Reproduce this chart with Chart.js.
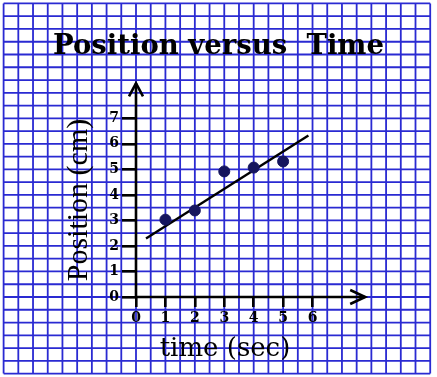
<!DOCTYPE html>
<html>
<head>
<meta charset="utf-8">
<script src="https://cdn.jsdelivr.net/npm/chart.js@4"></script>
<style>
  html, body { margin: 0; padding: 0; background: #fff; }
  canvas { display: block; }
</style>
</head>
<body>
<canvas id="myChart" width="437" height="377"></canvas>
<script>
const times = [1, 2, 3, 4, 5];
const positions = [3.03, 3.39, 4.92, 5.07, 5.31];
const fitTimes = [0.34, 5.86];
const fitPositions = [2.29, 6.33];
const xTicks = [0, 1, 2, 3, 4, 5, 6];
const yTicks = [0, 1, 2, 3, 4, 5, 6, 7];
const xRange = [0, 6.05];
const yRange = [0, 7.6];
const xAxisEnd = 7.79;
const yAxisEnd = 8.37;

const paperColor = '#2a2ad2';
const ink = '#000';

// blue graph paper behind everything, half a unit per cell
const graphPaper = {
    id: 'graphPaper',
    beforeDraw(chart) {
        const {ctx, width, height} = chart;
        const xs = chart.scales.x, ys = chart.scales.y;
        const vx = [], vy = [];
        for (let k = -40; k <= 40; k++) {
            const px = xs.getPixelForValue(k / 2);
            if (px >= 0 && px <= width) vx.push(px);
            const py = ys.getPixelForValue(k / 2);
            if (py >= 0 && py <= height) vy.push(py);
        }
        ctx.save();
        ctx.fillStyle = '#fff';
        ctx.fillRect(0, 0, width, height);
        ctx.strokeStyle = paperColor;
        ctx.lineWidth = 1.8;
        ctx.beginPath();
        vx.forEach(px => { ctx.moveTo(px, Math.min(...vy)); ctx.lineTo(px, Math.max(...vy)); });
        vy.forEach(py => { ctx.moveTo(Math.min(...vx), py); ctx.lineTo(Math.max(...vx), py); });
        ctx.stroke();
        ctx.restore();
    }
};

// axis lines with open arrow heads
const arrowAxes = {
    id: 'arrowAxes',
    afterDatasetsDraw(chart) {
        const {ctx} = chart;
        const xs = chart.scales.x, ys = chart.scales.y;
        const x0 = xs.getPixelForValue(0), y0 = ys.getPixelForValue(0);
        const xEnd = xs.getPixelForValue(xAxisEnd), yEnd = ys.getPixelForValue(yAxisEnd);
        ctx.save();
        ctx.strokeStyle = ink;
        ctx.lineWidth = 2.6;
        ctx.beginPath();
        ctx.moveTo(x0, y0 + 1.3);
        ctx.lineTo(x0, yEnd);
        ctx.moveTo(x0 - 1.3, y0);
        ctx.lineTo(xEnd, y0);
        ctx.stroke();
        ctx.beginPath();
        ctx.moveTo(x0 - 7, yEnd + 13);
        ctx.lineTo(x0, yEnd);
        ctx.lineTo(x0 + 7, yEnd + 13);
        ctx.moveTo(xEnd - 15, y0 - 7);
        ctx.lineTo(xEnd, y0);
        ctx.lineTo(xEnd - 15, y0 + 7);
        ctx.stroke();
        ctx.restore();
    }
};

const tickFont = {family: 'DejaVu Serif', size: 14, weight: 'bold'};

new Chart(document.getElementById('myChart').getContext('2d'), {
    type: 'scatter',
    data: {
        datasets: [{
            label: 'Position',
            data: times.map((t, i) => ({x: t, y: positions[i]})),
            pointRadius: 5.5,
            pointBackgroundColor: '#15155e',
            pointBorderColor: '#15155e',
            pointBorderWidth: 1
        }, {
            type: 'line',
            label: 'Best fit',
            data: fitTimes.map((t, i) => ({x: t, y: fitPositions[i]})),
            borderColor: ink,
            borderWidth: 2.4,
            pointRadius: 0,
            fill: false
        }]
    },
    options: {
        responsive: false,
        animation: false,
        layout: {padding: 0},
        scales: {
            x: {
                type: 'linear',
                min: xRange[0],
                max: xRange[1],
                afterBuildTicks: s => { s.ticks = xTicks.map(v => ({value: v})); },
                afterFit: s => { s.height = 80; },
                border: {display: false},
                grid: {drawOnChartArea: false, drawTicks: true, tickLength: 10, color: ink, lineWidth: 2.6},
                ticks: {font: tickFont, color: ink, padding: 3, autoSkip: false, maxRotation: 0},
                title: {
                    display: true,
                    text: 'time (sec)',
                    color: ink,
                    font: {family: 'DejaVu Serif', size: 26, lineHeight: 1.2},
                    padding: {top: 0, bottom: 12.6}
                }
            },
            y: {
                type: 'linear',
                min: yRange[0],
                max: yRange[1],
                afterBuildTicks: s => { s.ticks = yTicks.map(v => ({value: v})); },
                afterFit: s => { s.width = 136; },
                border: {display: false},
                grid: {drawOnChartArea: false, drawTicks: true, tickLength: 14, color: ink, lineWidth: 2.6},
                ticks: {font: tickFont, color: ink, padding: 3, autoSkip: false},
                title: {
                    display: true,
                    text: 'Position (cm)',
                    color: ink,
                    font: {family: 'Liberation Serif', size: 30, lineHeight: 1.2},
                    padding: {top: 61, bottom: 0}
                }
            },
            // empty box on the right so the plot stops short of the arrow
            spacer: {
                type: 'linear',
                position: 'right',
                display: true,
                afterFit: s => { s.width = 123; },
                border: {display: false},
                grid: {display: false},
                ticks: {display: false}
            }
        },
        plugins: {
            legend: {display: false},
            tooltip: {enabled: false},
            title: {
                display: true,
                text: 'Position versus  Time',
                color: ink,
                font: {family: 'DejaVu Serif', size: 27.5, weight: 'bold', lineHeight: 1.2},
                padding: {top: 30.5, bottom: 39.5}
            }
        }
    },
    plugins: [graphPaper, arrowAxes]
});
</script>
</body>
</html>
